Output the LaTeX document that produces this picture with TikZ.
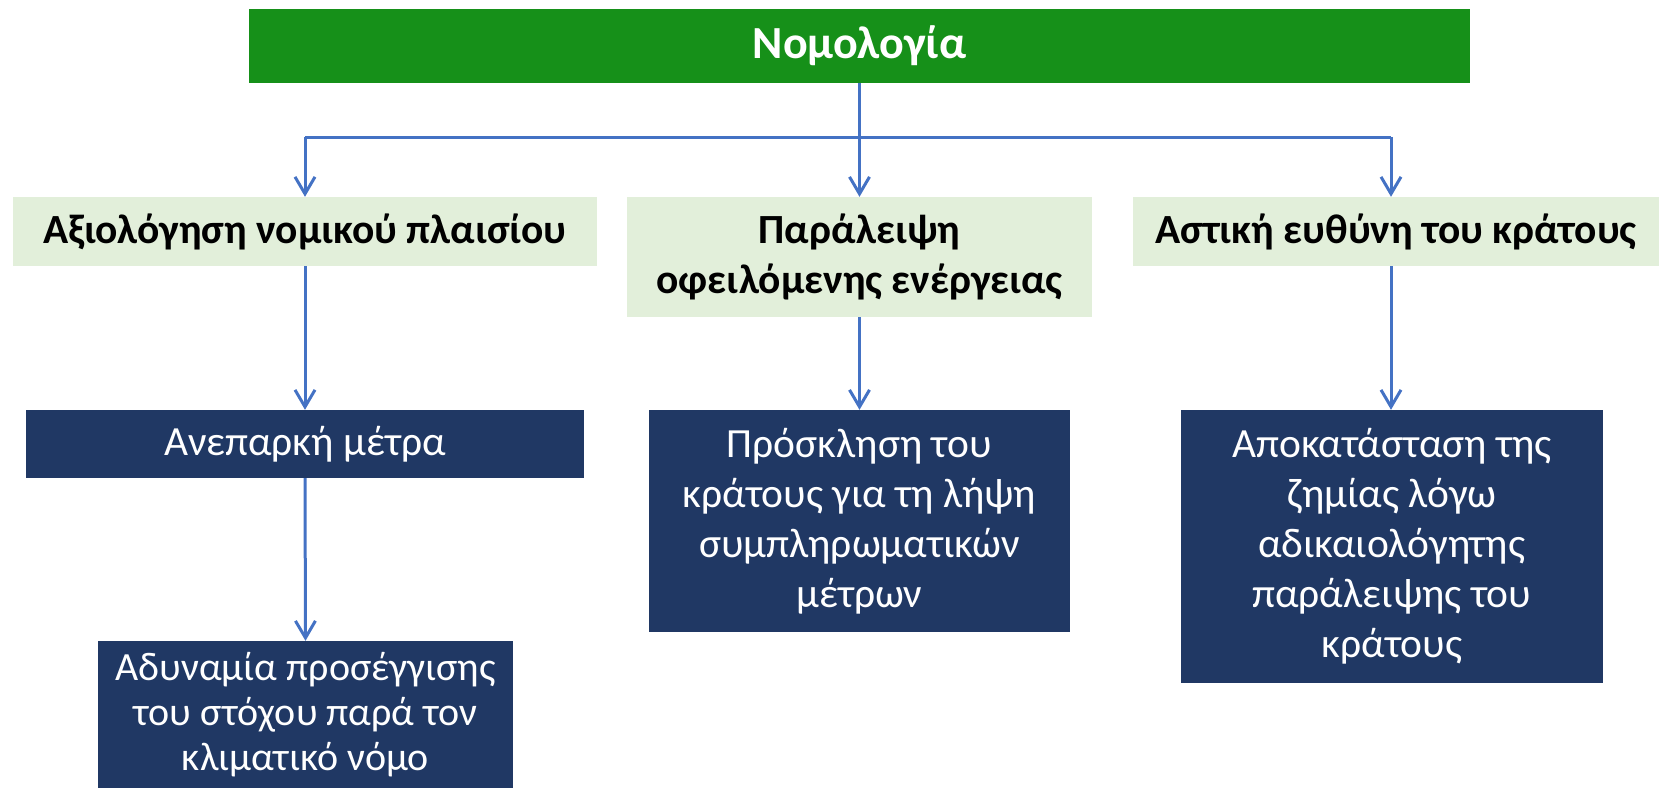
\documentclass[tikz,border=0pt]{standalone}
\usepackage{fontspec}
\setmainfont{Carlito}
\usetikzlibrary{arrows.meta}
\definecolor{topgreen}{RGB}{22,144,25}
\definecolor{palegreen}{RGB}{226,239,218}
\definecolor{navy}{RGB}{32,56,100}
\definecolor{linkblue}{RGB}{68,114,196}
\tikzset{
  topbox/.style={fill=topgreen, text=white, font=\fontsize{46}{50}\selectfont\bfseries, inner sep=0pt, align=center},
  midbox/.style={fill=palegreen, text=black, font=\fontsize{41.5}{50}\selectfont\bfseries, inner sep=0pt, align=center},
  lowbox/.style={fill=navy, text=white, font=\fontsize{41.5}{50}\selectfont, inner sep=0pt, align=center},
  link/.style={draw=linkblue, line width=3pt},
  arr/.style={link, -{Straight Barb[length=17pt,width=20pt,line width=3pt]}},
}
\begin{document}
\begin{tikzpicture}[x=1pt,y=-1pt]
\useasboundingbox (0,0) rectangle (1659,788);
\node[topbox, minimum width=1221pt, minimum height=74pt] (top) at (859.5,46) {Νομολογία};
\node[midbox, minimum width=584pt, minimum height=69pt] (a1) at (305,231.5) {Αξιολόγηση νομικού πλαισίου};
\node[midbox, minimum width=465pt, minimum height=120pt] (b1) at (859.5,257) {Παράλειψη\\οφειλόμενης ενέργειας};
\node[midbox, minimum width=526pt, minimum height=69pt] (c1) at (1396,231.5) {Αστική ευθύνη του κράτους};
\node[lowbox, minimum width=558pt, minimum height=68pt] (a2) at (305,444) {Ανεπαρκή μέτρα};
\node[lowbox, font=\fontsize{40}{45}\selectfont, minimum width=415pt, minimum height=147pt] (a3) at (305.5,714.5) {Αδυναμία προσέγγισης\\του στόχου παρά τον\\κλιματικό νόμο};
\node[lowbox, minimum width=421pt, minimum height=222pt] (b2) at (859.5,521) {Πρόσκληση του\\κράτους για τη λήψη\\συμπληρωματικών\\μέτρων};
\node[lowbox, minimum width=422pt, minimum height=273pt] (c2) at (1392,546.5) {Αποκατάσταση της\\ζημίας λόγω\\αδικαιολόγητης\\παράλειψης του\\κράτους};
\coordinate (busL) at (305,137);
\coordinate (busM) at (859.5,137);
\coordinate (busR) at (1391,137);
\draw[link] (top.south) -- (busM);
\draw[link] (busL) -- (busR);
\draw[arr] (busL) -- (a1.north);
\draw[arr] (busM) -- (b1.north);
\draw[arr] (busR) -- (busR |- c1.north);
\draw[arr] (a1.south) -- (a2.north);
\draw[arr] (a2.south) -- (a3.north);
\draw[arr] (b1.south) -- (b2.north);
\draw[arr] (c1.south -| busR) -- (busR |- c2.north);
\end{tikzpicture}
\end{document}
